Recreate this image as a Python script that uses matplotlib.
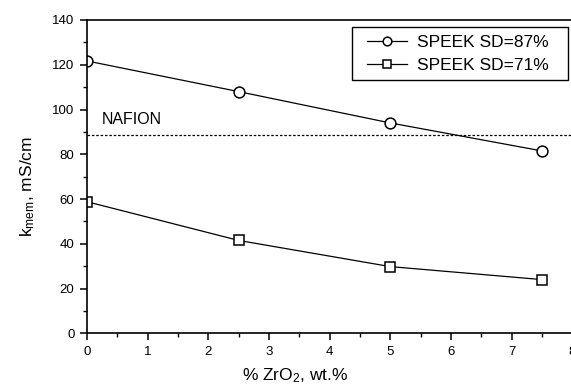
import matplotlib
matplotlib.use("Agg")
import matplotlib.pyplot as plt
from matplotlib.ticker import MultipleLocator
from matplotlib.patches import Rectangle

plt.rcParams['font.family'] = ['Liberation Sans', 'DejaVu Sans']
plt.rcParams['mathtext.fontset'] = 'custom'
plt.rcParams['mathtext.rm'] = 'Liberation Sans'
plt.rcParams['mathtext.it'] = 'Liberation Sans'
plt.rcParams['mathtext.default'] = 'regular'

zro2 = [0, 2.5, 5, 7.5]
sd87 = [121.7, 108.0, 94.0, 81.5]
sd71 = [58.8, 41.5, 29.8, 24.0]
nafion = 88.6
labels = ['SPEEK SD=87%', 'SPEEK SD=71%']

fig = plt.figure(figsize=(5.71, 3.88), dpi=100)
W, H = 571, 388
x0, x1 = 87, 572.3
ytop, ybot = 20, 333.3
ax = fig.add_axes([x0 / W, 1 - ybot / H, (x1 - x0) / W, (ybot - ytop) / H])

ax.plot(zro2, sd87, color='black', lw=0.9, marker='o', ms=7.8, mfc='white',
        mec='black', mew=1.1, label=labels[0])
ax.plot(zro2, sd71, color='black', lw=0.9, marker='s', ms=7.3, mfc='white',
        mec='black', mew=1.1, label=labels[1])
ax.axhline(nafion, color='black', lw=0.9, ls=(0, (2, 1.5)))
ax.text(0.25, 93.5, 'NAFION', fontsize=11.5, ha='left', va='baseline')

ax.set_xlim(0, 8)
ax.set_ylim(0, 140)
ax.xaxis.set_major_locator(MultipleLocator(1))
ax.xaxis.set_minor_locator(MultipleLocator(0.5))
ax.yaxis.set_major_locator(MultipleLocator(20))
ax.yaxis.set_minor_locator(MultipleLocator(10))
ax.tick_params(which='major', direction='out', length=5, width=1.1, labelsize=9.5, pad=4)
ax.tick_params(which='minor', direction='out', length=3, width=1.0)
for s in ax.spines.values():
    s.set_linewidth(1.2)

def fx(px):
    return (px - x0) / (x1 - x0)

def fy(py):
    return (ybot - py) / (ybot - ytop)

ax.set_xlabel('% ZrO$_2$, wt.%', fontsize=12.5)
ax.set_ylabel('k$_{mem}$, mS/cm', fontsize=12.5)
ax.xaxis.set_label_coords(fx(295), fy(366))
ax.yaxis.set_label_coords(fx(37), fy(187))

leg = ax.legend(loc='upper left', bbox_to_anchor=(fx(367), fy(34.5)),
                fontsize=12.5, frameon=False, markerscale=0.8,
                borderpad=0, handlelength=2.3, handletextpad=0.6, labelspacing=0.5,
                borderaxespad=0)
ax.add_patch(Rectangle((fx(352), fy(80)), fx(568) - fx(352), fy(26.7) - fy(80),
                       transform=ax.transAxes, fill=False, edgecolor='black',
                       lw=1.0, clip_on=False, zorder=5))

fig.savefig('out.png', dpi=100)
